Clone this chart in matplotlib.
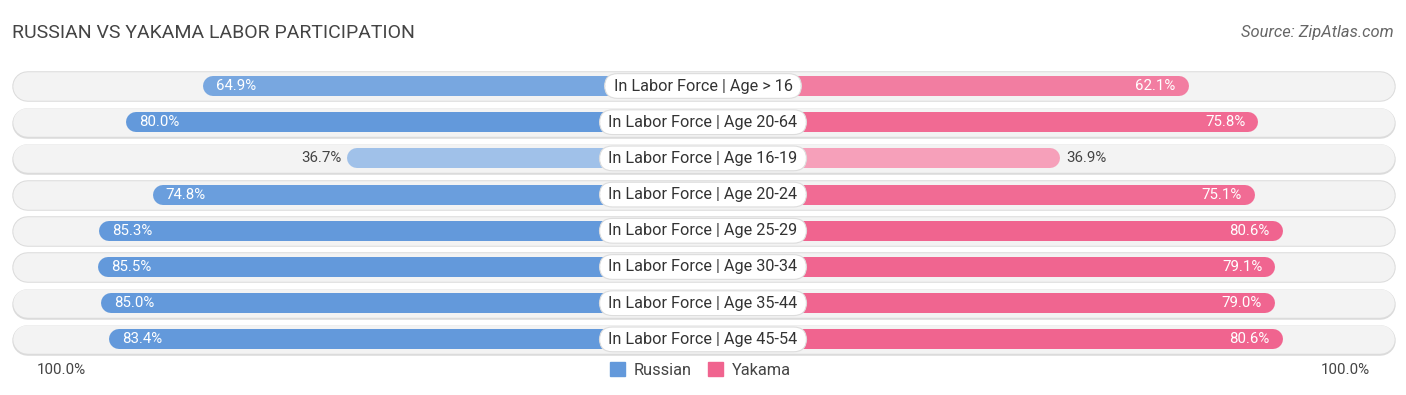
import matplotlib
matplotlib.use("Agg")
import matplotlib.pyplot as plt
from matplotlib.colors import to_rgb
from matplotlib.patches import Patch

plt.rcParams['font.family'] = ['Roboto', 'DejaVu Sans']

categories = ["In Labor Force | Age > 16", "In Labor Force | Age 20-64", "In Labor Force | Age 16-19",
              "In Labor Force | Age 20-24", "In Labor Force | Age 25-29", "In Labor Force | Age 30-34",
              "In Labor Force | Age 35-44", "In Labor Force | Age 45-54"]
russian = [64.9, 80.0, 36.7, 74.8, 85.3, 85.5, 85.0, 83.4]
yakama = [62.1, 75.8, 36.9, 75.1, 80.6, 79.1, 79.0, 80.6]

blue = "#6399db"
pink = "#f0648f"

W, H, DPI = 1406, 395, 100
PX = 5.1          # pixels per percent
ROW = 36.2        # pixels per row
OFF = 33.1        # hidden part of bar behind the label
fig = plt.figure(figsize=(W / DPI, H / DPI), dpi=DPI)
ax = fig.add_axes([0, 0, 1, 1])
ax.set_xlim(-W / 2 / PX, W / 2 / PX)
ax.set_ylim((H - 86) / ROW, -86 / ROW)
ax.axis('off')

pt = 72 / DPI  # points per pixel


def shade(c, v):
    # weaker values get lighter colours
    f = min(1.0, max(0.0, (v - 30) / 50))
    k = 0.45 * (1 - f)
    r, g, b = to_rgb(c)
    return (r + (1 - r) * k, g + (1 - g) * k, b + (1 - b) * k)


track_r = 14.5 / PX
bar_r = 10 / PX
track_end = 691 / PX
for i, cat in enumerate(categories):
    # background pill with a soft edge
    ax.plot([-track_end + track_r, track_end - track_r], [i + 0.01, i + 0.01], lw=30.5 * pt, color="#dbdbdb",
            solid_capstyle='round', zorder=1)
    ax.plot([-track_end + track_r, track_end - track_r], [i, i], lw=28.5 * pt, color="#f3f3f3",
            solid_capstyle='round', zorder=1.1)

    rv, yv = russian[i], yakama[i]
    lx = -(rv + OFF)
    rx = yv + OFF
    ax.plot([lx + bar_r, 0], [i, i], lw=20 * pt, color=shade(blue, rv), solid_capstyle='round', zorder=2)
    ax.plot([0, rx - bar_r], [i, i], lw=20 * pt, color=shade(pink, yv), solid_capstyle='round', zorder=2)

    if rv > 50:
        ax.text(lx + 13 / PX, i, f"{rv:.1f}%", ha='left', va='center', color='white', fontsize=10.8, zorder=4)
    else:
        ax.text(lx - 6 / PX, i, f"{rv:.1f}%", ha='right', va='center', color='#444444', fontsize=10.8, zorder=4)
    if yv > 50:
        ax.text(rx - 13 / PX, i, f"{yv:.1f}%", ha='right', va='center', color='white', fontsize=10.8, zorder=4)
    else:
        ax.text(rx + 6 / PX, i, f"{yv:.1f}%", ha='left', va='center', color='#444444', fontsize=10.8, zorder=4)

    ax.text(0, i, f" {cat} ", ha='center', va='center', fontsize=11.7, color='#333333', zorder=5,
            bbox=dict(boxstyle="round,pad=0.3,rounding_size=0.8", fc='white', ec='#dddddd', lw=0.8))

ax.text(-(703 - 37) / PX, 7.85, "100.0%", ha='left', va='center', fontsize=10.9, color='#444444')
ax.text((1370 - 703) / PX, 7.85, "100.0%", ha='right', va='center', fontsize=10.9, color='#444444')

fig.text(12 / W, 1 - 33 / H, "RUSSIAN VS YAKAMA LABOR PARTICIPATION", ha='left', va='center',
         fontsize=14, color='#444444')
fig.text(1394 / W, 1 - 33 / H, "Source: ZipAtlas.com", ha='right', va='center',
         fontsize=11.9, color='#666666', style='italic')

handles = [Patch(color=blue, label="Russian"), Patch(color=pink, label="Yakama")]
fig.legend(handles=handles, loc='center', bbox_to_anchor=(0.498, 1 - 370 / H), ncol=2, frameon=False,
           fontsize=11.8, handlelength=0.95, handleheight=0.95, handletextpad=0.5, columnspacing=1.0,
           labelcolor='#444444')

fig.savefig("out.png", dpi=DPI)
